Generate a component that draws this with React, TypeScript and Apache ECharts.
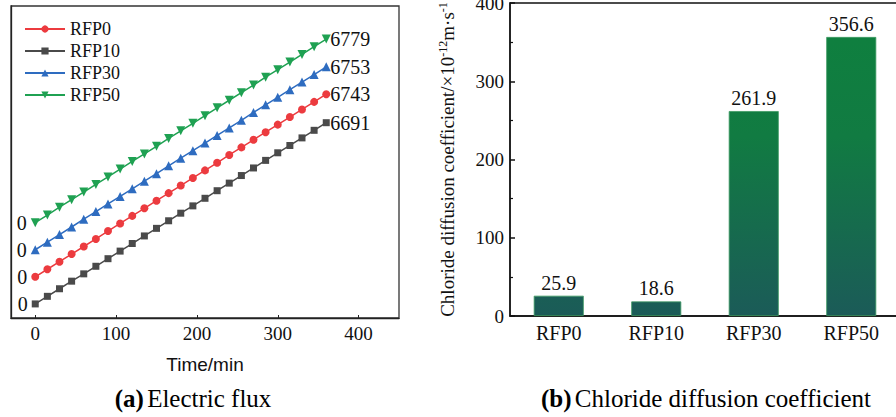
import React, { useEffect, useRef } from "react";
import * as echarts from "echarts";

const timeMin = [0, 15, 30, 45, 60, 75, 90, 105, 120, 135, 150, 165, 180, 195, 210, 225, 240, 255, 270, 285, 300, 315, 330, 345, 360];
const seriesNames = ["RFP0", "RFP10", "RFP30", "RFP50"];
const fluxRFP0 = [0, 280, 560, 840, 1120, 1400, 1690, 1970, 2250, 2530, 2810, 3090, 3370, 3650, 3930, 4210, 4500, 4780, 5060, 5340, 5620, 5900, 6180, 6460, 6743];
const fluxRFP10 = [0, 280, 560, 840, 1110, 1390, 1670, 1950, 2230, 2510, 2790, 3070, 3350, 3620, 3900, 4180, 4460, 4740, 5020, 5300, 5580, 5850, 6130, 6410, 6691];
const fluxRFP30 = [0, 280, 560, 840, 1130, 1410, 1690, 1970, 2250, 2530, 2810, 3100, 3380, 3660, 3940, 4220, 4500, 4780, 5070, 5350, 5630, 5910, 6190, 6470, 6753];
const fluxRFP50 = [0, 280, 570, 850, 1130, 1410, 1690, 1980, 2260, 2540, 2820, 3110, 3390, 3670, 3950, 4240, 4520, 4800, 5080, 5370, 5650, 5930, 6210, 6500, 6779];
// vertical display offsets used in the original figure to separate the curves
const displayOffsets = [1000, 0, 2000, 3000];
const xTicks = [0, 100, 200, 300, 400];

const barCategories = ["RFP0", "RFP10", "RFP30", "RFP50"];
const diffusionValues = [25.9, 18.6, 261.9, 356.6];
const yTicks = [0, 100, 200, 300, 400];

const SERIF = "'Liberation Serif', 'Times New Roman', serif";
const SANS = "'Liberation Sans', Arial, sans-serif";

export default function App() {
  const ref = useRef<HTMLDivElement>(null);
  useEffect(() => {
    document.body.style.margin = "0";
    if (!ref.current) return;
    const chart = echarts.init(ref.current, null, { renderer: "svg" });
    const fluxAll = [fluxRFP0, fluxRFP10, fluxRFP30, fluxRFP50];
    const colors = ["#ec3b3f", "#4a4a4a", "#2e6cc0", "#1fa152"];
    const symbols = ["circle", "rect", "triangle", "triangle"];
    const symbolSizes = [8, 7, 9, 9];
    const rotates = [0, 0, 0, 180];

    const lineSeries = fluxAll.map((vals, k) => ({
      name: seriesNames[k],
      type: "line",
      xAxisIndex: 0,
      yAxisIndex: 0,
      data: vals.map((v, i) => {
        const item: any = { value: [timeMin[i], v + displayOffsets[k]] };
        if (i === 0) {
          item.label = {
            show: true,
            position: "left",
            distance: 4,
            formatter: String(vals[0]),
            fontFamily: SERIF,
            fontSize: 20,
            color: "#111",
          };
        }
        return item;
      }),
      color: colors[k],
      symbol: symbols[k],
      symbolSize: symbolSizes[k],
      symbolRotate: rotates[k],
      lineStyle: { width: 1.5, color: colors[k] },
      itemStyle: { color: colors[k] },
      endLabel: {
        show: true,
        formatter: String(vals[vals.length - 1]),
        fontFamily: SERIF,
        fontSize: 20,
        color: "#111",
        distance: 4,
      },
    }));

    const captionRich = {
      b: { fontFamily: SERIF, fontSize: 25, fontWeight: "bold", color: "#111" },
      n: { fontFamily: SERIF, fontSize: 25, color: "#111" },
    };

    chart.setOption({
      animation: false,
      legend: {
        left: 19,
        top: 15,
        orient: "vertical",
        itemWidth: 40,
        itemHeight: 9,
        itemGap: 4,
        data: seriesNames,
        textStyle: { fontFamily: SERIF, fontSize: 18, color: "#111" },
      },
      grid: [
        { left: 11, top: 6, width: 388, height: 312, show: true, borderColor: "#333", borderWidth: 1.3, outerBoundsMode: "none", containLabel: false },
        { left: 510, top: 3, width: 390, height: 313, show: true, borderColor: "#111", borderWidth: 1.3, outerBoundsMode: "none", containLabel: false },
      ],
      xAxis: [
        {
          type: "value",
          gridIndex: 0,
          min: -30,
          max: 450,
          splitLine: { show: false },
          axisLine: { onZero: false, lineStyle: { color: "#222", width: 1.3 } },
          axisTick: { show: true, inside: true, length: 3, lineStyle: { color: "#222" }, customValues: xTicks },
          axisLabel: {
            fontFamily: SERIF,
            fontSize: 19,
            color: "#111",
            margin: 6,
            customValues: xTicks,
          },
          name: "Time/min",
          nameLocation: "middle",
          nameGap: 37,
          nameTextStyle: { fontFamily: SANS, fontSize: 19, color: "#111" },
        },
        {
          type: "category",
          gridIndex: 1,
          data: barCategories,
          axisLine: { onZero: false, lineStyle: { color: "#111", width: 1.5 } },
          axisTick: { show: true, inside: true, alignWithLabel: true, length: 4, lineStyle: { color: "#111", width: 1.5 } },
          axisLabel: { fontFamily: SERIF, fontSize: 20, color: "#111", margin: 7 },
        },
      ],
      yAxis: [
        {
          type: "value",
          gridIndex: 0,
          min: -520,
          max: 11000,
          axisLabel: { show: false },
          axisTick: { show: false },
          splitLine: { show: false },
          axisLine: { show: true, onZero: false, lineStyle: { color: "#222", width: 1.3 } },
        },
        {
          type: "value",
          gridIndex: 1,
          min: 0,
          max: 400,
          interval: 100,
          splitLine: { show: false },
          axisLine: { show: true, onZero: false, lineStyle: { color: "#111", width: 1.5 } },
          axisTick: { show: true, inside: true, length: 5, lineStyle: { color: "#111", width: 1.5 } },
          minorTick: { show: true, splitNumber: 2, length: 3, lineStyle: { color: "#111", width: 1.2 } },
          axisLabel: {
            fontFamily: SERIF,
            fontSize: 19,
            color: "#111",
            margin: 6,
            formatter: (v: number) => (yTicks.includes(v) ? String(v) : ""),
          },
          name: "{a|Chloride diffusion coefficient/×10}{s|-12}{a|m·s}{s|-1}",
          nameLocation: "middle",
          nameRotate: 90,
          nameGap: 53,
          nameTextStyle: {
            fontFamily: SERIF,
            fontSize: 19,
            color: "#111",
            rich: {
              a: { fontFamily: SERIF, fontSize: 19, color: "#111" },
              s: { fontFamily: SERIF, fontSize: 12, color: "#111", verticalAlign: "top", padding: [0, 0, 8, 0] },
            },
          },
        },
      ],
      series: [
        ...lineSeries,
        {
          type: "bar",
          xAxisIndex: 1,
          yAxisIndex: 1,
          data: diffusionValues,
          barWidth: 50,
          itemStyle: {
            color: {
              type: "linear",
              x: 0,
              y: 40,
              x2: 0,
              y2: 316,
              global: true,
              colorStops: [
                { offset: 0, color: "#0f7f3f" },
                { offset: 0.35, color: "#117b42" },
                { offset: 1, color: "#1b5b58" },
              ],
            },
            borderColor: "#3e9b62",
            borderWidth: 0.8,
          },
          label: {
            show: true,
            position: "top",
            distance: 3,
            fontFamily: SERIF,
            fontSize: 20,
            color: "#111",
          },
        },
      ],
      graphic: [
        {
          type: "text",
          x: 193,
          y: 398,
          style: {
            text: "{b|(a)} {n|Electric flux}",
            align: "center",
            verticalAlign: "middle",
            rich: captionRich,
          },
        },
        {
          type: "text",
          x: 706,
          y: 398,
          style: {
            text: "{b|(b)} {n|Chloride diffusion coefficient}",
            align: "center",
            verticalAlign: "middle",
            rich: captionRich,
          },
        },
      ],
    });
    return () => chart.dispose();
  }, []);
  return <div ref={ref} style={{ width: 896, height: 417 }} />;
}
